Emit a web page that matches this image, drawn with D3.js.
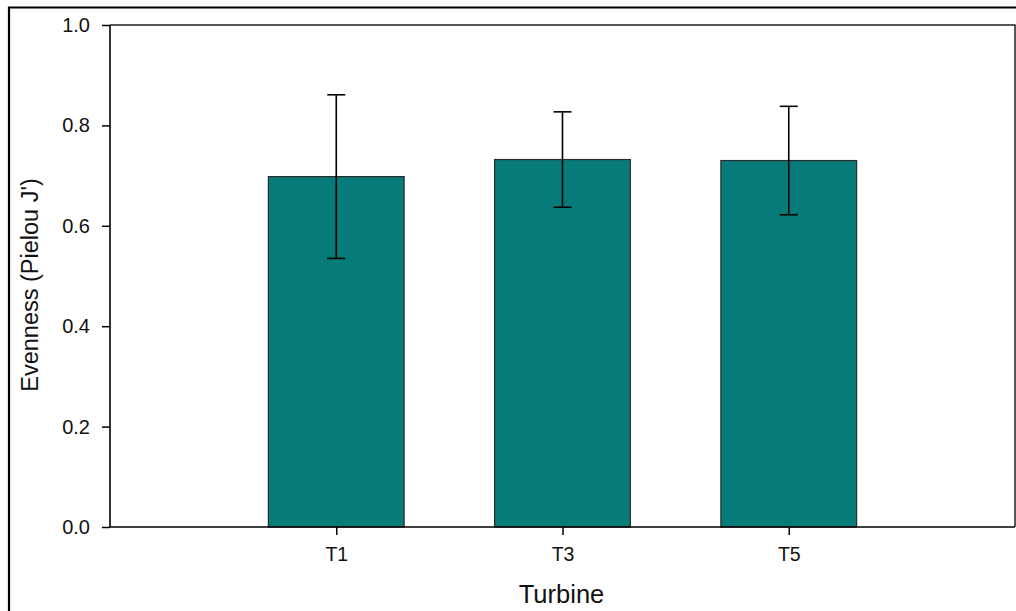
<!DOCTYPE html>
<html>
<head>
<meta charset="utf-8">
<script src="https://cdn.jsdelivr.net/npm/d3@7"></script>
<style>
  html, body { margin: 0; padding: 0; background: #fff; }
  svg { display: block; font-family: "Liberation Sans", Arial, sans-serif; }
</style>
</head>
<body>
<svg id="chart" width="1016" height="611"></svg>
<script>
const categories = ["T1", "T3", "T5"];
const means = [0.698, 0.732, 0.730];
const errors = [0.163, 0.095, 0.108];
const yTicks = [0.0, 0.2, 0.4, 0.6, 0.8, 1.0];
const xTitle = "Turbine";
const yTitle = "Evenness (Pielou J')";

(function () {
const svg = d3.select("#chart");
const pL = 110, pR = 1015, pT = 25, pB = 527;

const x = d3.scalePoint().domain(categories).range([pL, pR]).padding(1);
const y = d3.scaleLinear().domain([0, 1]).range([pB, pT]);
const barW = x.step() * 0.6;
const capW = 18;

// outer frame
svg.append("path")
  .attr("d", `M9,611 L9,7.5 L1016,7.5`)
  .attr("fill", "none").attr("stroke", "#000").attr("stroke-width", 2.2);

// plot frame (top/right)
svg.append("path")
  .attr("d", `M${pL},${pT} L${pR},${pT} L${pR},${pB}`)
  .attr("fill", "none").attr("stroke", "#222").attr("stroke-width", 1.5);

// bars
const data = categories.map((c, i) => ({ c, m: means[i], e: errors[i] }));
svg.append("g").selectAll("rect").data(data).join("rect")
  .attr("x", d => x(d.c) - barW / 2)
  .attr("width", barW)
  .attr("y", d => y(d.m))
  .attr("height", d => y(0) - y(d.m))
  .attr("fill", "#067b79")
  .attr("stroke", "#2a2a2a")
  .attr("stroke-width", 1.2);

// error bars
const eb = svg.append("g").attr("stroke", "#000").attr("stroke-width", 1.6);
data.forEach(d => {
  eb.append("line").attr("x1", x(d.c)).attr("x2", x(d.c))
    .attr("y1", y(d.m + d.e)).attr("y2", y(d.m - d.e));
  eb.append("line").attr("x1", x(d.c) - capW / 2).attr("x2", x(d.c) + capW / 2)
    .attr("y1", y(d.m + d.e)).attr("y2", y(d.m + d.e));
  eb.append("line").attr("x1", x(d.c) - capW / 2).attr("x2", x(d.c) + capW / 2)
    .attr("y1", y(d.m - d.e)).attr("y2", y(d.m - d.e));
});

// y axis
const yAxis = svg.append("g").attr("transform", `translate(${pL},0)`)
  .call(d3.axisLeft(y).tickValues(yTicks).tickFormat(d3.format(".1f")).tickSize(8).tickPadding(12));
yAxis.select(".domain").attr("stroke", "#000").attr("stroke-width", 1.6)
  .attr("d", `M0,${pT}V${pB}`);
yAxis.selectAll(".tick line").attr("stroke", "#000").attr("stroke-width", 1.5);
yAxis.selectAll(".tick text").attr("fill", "#111").style("font-size", "20px")
  .style("font-family", '"Liberation Sans", Arial, sans-serif');

// x axis
const xAxis = svg.append("g").attr("transform", `translate(0,${pB})`)
  .call(d3.axisBottom(x).tickSize(8).tickPadding(12));
xAxis.select(".domain").attr("stroke", "#000").attr("stroke-width", 1.6)
  .attr("d", `M${pL},0H${pR}`);
xAxis.selectAll(".tick line").attr("stroke", "#000").attr("stroke-width", 1.5);
xAxis.selectAll(".tick text").attr("fill", "#111").style("font-size", "19.5px")
  .style("font-family", '"Liberation Sans", Arial, sans-serif');

// titles
svg.append("text").attr("x", (pL + pR) / 2 - 1).attr("y", 603)
  .attr("text-anchor", "middle").style("font-size", "25.5px").attr("fill", "#111")
  .text(xTitle);
svg.append("text").attr("transform", "translate(38,285) rotate(-90)")
  .attr("text-anchor", "middle").style("font-size", "23.5px").attr("fill", "#111")
  .text(yTitle);
})();
</script>
</body>
</html>
